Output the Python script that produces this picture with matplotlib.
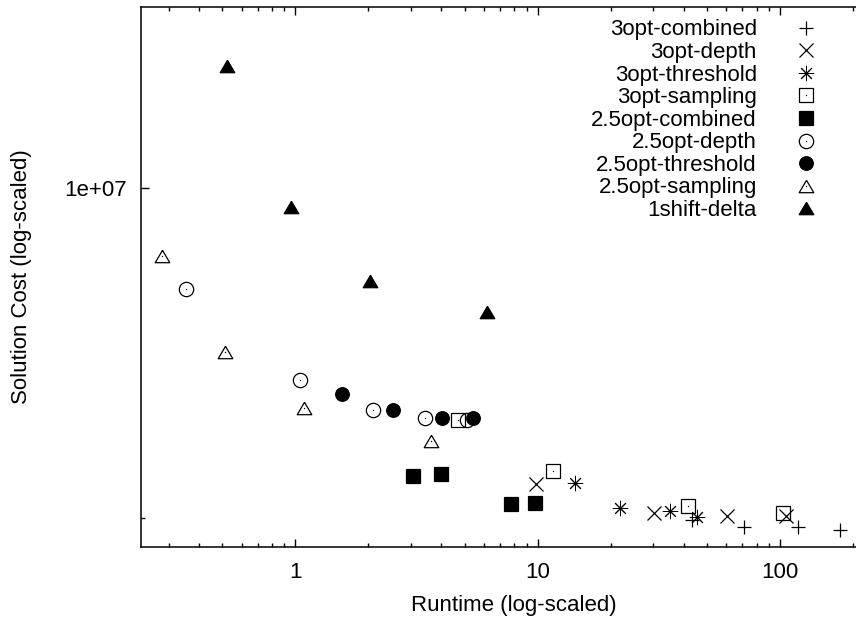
import matplotlib
matplotlib.use("Agg")
import matplotlib.pyplot as plt
from matplotlib.ticker import FixedLocator, NullFormatter, FixedFormatter

plt.rcParams['font.family'] = ['Liberation Sans', 'DejaVu Sans']

# ---- data (runtime [s], solution cost) ----
c3_x = [43.3, 70.8, 118.3, 176.9]
c3_y = [4.976e6, 4.907e6, 4.907e6, 4.873e6]
d3_x = [9.84, 30.2, 60.3, 105.9]
d3_y = [5.37e6, 5.05e6, 5.02e6, 5.02e6]
t3_x = [14.2, 21.9, 35.2, 45.3]
t3_y = [5.375e6, 5.10e6, 5.074e6, 5.004e6]
s3_x = [4.70, 11.53, 41.8, 103.2]
s3_y = [6.14e6, 5.51e6, 5.12e6, 5.05e6]
c25_x = [3.06, 3.98, 7.76, 9.72]
c25_y = [5.46e6, 5.48e6, 5.15e6, 5.16e6]
d25_x = [0.353, 1.048, 2.09, 3.44, 5.09]
d25_y = [8.09e6, 6.67e6, 6.27e6, 6.17e6, 6.14e6]
t25_x = [1.557, 2.53, 4.02, 5.42]
t25_y = [6.48e6, 6.27e6, 6.17e6, 6.17e6]
s25_x = [0.281, 0.512, 1.085, 3.64]
s25_y = [8.665e6, 7.08e6, 6.30e6, 5.87e6]
sh_x = [0.522, 0.959, 2.03, 6.19]
sh_y = [1.291e7, 9.60e6, 8.22e6, 7.70e6]

labels = ["3opt-combined", "3opt-depth", "3opt-threshold", "3opt-sampling",
          "2.5opt-combined", "2.5opt-depth", "2.5opt-threshold",
          "2.5opt-sampling", "1shift-delta"]

x_major = [1, 10, 100]
x_major_labels = ["1", "10", "100"]
y_major = [1e7]
y_major_labels = ["1e+07"]
y_minor = [5e6]

W, H = 856, 619
fig = plt.figure(figsize=(W / 100, H / 100), dpi=100)
ax = fig.add_axes([141 / W, (H - 547) / H, (856 - 141) / W, (547 - 7.3) / H])
ax.set_xscale('log')
ax.set_yscale('log')
ax.set_xlim(0.2306, 205.9)
ax.set_ylim(4.701e6, 1.4608e7)

tri_up = [(0, 0.85), (-1, -0.85), (1, -0.85), (0, 0.85)]
series = [
    (c3_x, c3_y, dict(marker='+', ms=9.5, mfc='none', mew=0.9)),
    (d3_x, d3_y, dict(marker='x', ms=9.5, mfc='none', mew=0.9)),
    (t3_x, t3_y, dict(marker=(8, 2, 0), ms=11, mfc='none', mew=0.7)),
    (s3_x, s3_y, dict(marker='s', ms=10, mfc='none', mew=0.9)),
    (c25_x, c25_y, dict(marker='s', ms=10, mfc='black', mew=0.9)),
    (d25_x, d25_y, dict(marker='o', ms=10.3, mfc='none', mew=0.9)),
    (t25_x, t25_y, dict(marker='o', ms=9.8, mfc='black', mew=0.9)),
    (s25_x, s25_y, dict(marker=tri_up, ms=10.5, mfc='none', mew=0.9)),
    (sh_x, sh_y, dict(marker=tri_up, ms=10.5, mfc='black', mew=0.9)),
]
dotted = {3, 5, 7}
handles = []
for i, ((xs, ys, st), lab) in enumerate(zip(series, labels)):
    h, = ax.plot(xs, ys, linestyle='none', color='black', mec='black',
                 label=lab, zorder=3 + i, **st)
    if i in dotted:
        d, = ax.plot(xs, ys, linestyle='none', marker='o', ms=1.0, color='black',
                     mew=0, zorder=3 + i)
        handles.append((h, d))
    else:
        handles.append(h)

leg = ax.legend(handles=handles, labels=labels, loc='upper right',
                bbox_to_anchor=(832.4 / W, 1 - 19.5 / H), bbox_transform=fig.transFigure,
                markerfirst=False, frameon=False, fontsize=16, numpoints=1,
                handlelength=2.4, handletextpad=1.0, labelspacing=0.07,
                borderpad=0, borderaxespad=0)

ax.xaxis.set_major_locator(FixedLocator(x_major))
ax.xaxis.set_major_formatter(FixedFormatter(x_major_labels))
minors = []
for dec in [0.1, 1, 10, 100]:
    for k in range(2, 10):
        minors.append(dec * k)
ax.xaxis.set_minor_locator(FixedLocator(minors))
ax.xaxis.set_minor_formatter(NullFormatter())
ax.yaxis.set_major_locator(FixedLocator(y_major))
ax.yaxis.set_major_formatter(FixedFormatter(y_major_labels))
ax.yaxis.set_minor_locator(FixedLocator(y_minor))
ax.yaxis.set_minor_formatter(NullFormatter())

ax.tick_params(which='both', direction='in', top=True, right=False, labelsize=16,
               width=1.0, color='black')
ax.tick_params(which='major', length=6)
ax.tick_params(which='minor', length=3)
ax.tick_params(axis='x', which='major', pad=11)
ax.tick_params(axis='y', which='major', pad=10)
for s in ['left', 'bottom', 'top']:
    ax.spines[s].set_linewidth(1.1)
ax.spines['right'].set_visible(False)

fig.text(514 / W, 1 - 606 / H, "Runtime (log-scaled)", ha='center', va='center', fontsize=16)
fig.text(22 / W, 1 - 277 / H, "Solution Cost (log-scaled)", ha='center', va='center',
         rotation=90, fontsize=16)

fig.savefig("out.png", dpi=100)
